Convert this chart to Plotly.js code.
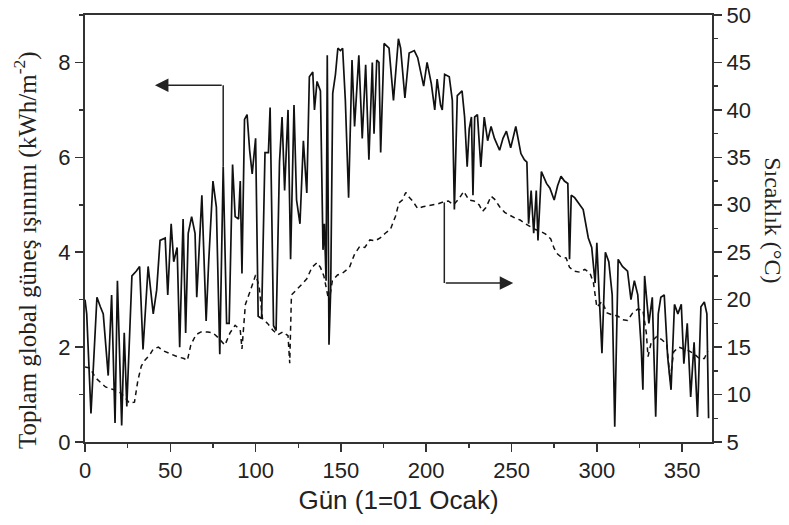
<!DOCTYPE html>
<html><head><meta charset="utf-8">
<script src="https://cdn.plot.ly/plotly-3.0.1.min.js"></script>
<style>html,body{margin:0;padding:0;background:#fff}</style>
</head><body><div id="chart" style="width:789px;height:525px"></div>
<script>
// Daily global solar radiation (kWh/m2)
const radDays = [0,1,3.5,5,7,9,10.7,13.6,15.6,17.6,19,21.5,23,24.5,27.5,30,32,34,37,38.5,40,42,44,47,48.5,50.5,52,54,55.5,57.5,59,60.5,62.5,64.5,65.5,68.5,71,72.5,75,77,79,81,83,84.5,86.5,88,90,91,92,93.5,95,96.5,98,100,101.5,103.5,105.5,107.5,108.5,110.5,112,114,115.5,117,119,120.5,122.5,124,126,128,130,131.5,133.5,134.5,136,138,139.5,140.3,141.3,142,143,144,145.2,146.8,148.2,149.7,151,152.6,154.5,156.5,158,160.5,162.5,164.5,166.4,168.4,169.4,171,172.3,173.3,175.3,178.2,180.8,183.7,185,187.5,190,193,195,198.5,200.5,203,205,206.4,208.4,209.4,210.8,213.5,215.3,216.5,218.2,221,222.5,224,225.2,226.5,227.4,228.4,230,232,234,236,238,240,243,245,247,249.5,252.5,255.5,257.5,259,260,261.5,263,264.5,265.5,267.5,270.5,272.5,275,277,279,281,283,284,285,287,289,292,295,297,299,300,301.5,303,305,307,309,310.5,312.5,315,318,320,322,324,326,327,328,329,330.5,332.5,334.5,336,337.5,339.5,341.5,343.5,345.5,347.5,349.5,351,353,355,357,359,361,363,364.5,365.5];
const radVals = [3.0,2.7,0.6,1.6,3.05,2.85,2.7,1.4,3.1,0.4,3.4,0.35,2.3,0.75,3.5,3.6,3.7,1.95,3.7,3.2,2.7,3.2,4.25,4.3,3.1,4.6,3.8,4.1,2.0,4.7,2.3,4.4,4.75,4.4,3.05,5.2,2.55,3.8,5.5,4.95,1.85,5.8,2.5,2.5,5.85,4.75,4.7,5.5,3.55,6.8,6.9,6.15,5.65,6.4,2.65,2.6,6.1,6.1,7.05,2.45,2.35,5.9,6.85,5.3,7.0,3.85,7.1,5.1,4.6,6.35,5.25,7.7,7.8,7.0,7.6,7.4,4.05,4.6,3.4,8.15,2.05,3.2,7.35,7.75,8.3,8.25,8.3,7.2,5.15,8.05,6.65,8.15,6.4,7.95,5.95,8.0,6.5,8.05,8.0,6.1,8.4,8.3,7.2,8.5,8.3,7.25,8.2,8.25,8.1,7.5,8.0,7.55,7.0,7.65,7.1,7.0,7.75,7.7,7.2,4.9,7.3,7.4,6.85,5.8,6.6,6.85,5.2,6.85,6.9,5.8,6.85,6.35,6.65,6.4,6.15,6.4,6.55,6.2,6.65,6.08,5.95,5.9,4.6,5.3,4.4,5.3,4.25,5.7,5.45,5.35,5.1,5.4,5.6,5.5,5.45,3.85,5.2,5.15,5.05,4.9,4.3,4.1,3.35,4.2,3.0,1.87,4.0,3.8,3.1,0.32,3.85,3.7,3.6,3.0,3.4,3.1,2.0,1.1,3.5,3.05,2.5,3.05,0.53,2.7,3.05,3.1,1.8,1.1,2.9,2.7,2.9,1.65,2.5,0.95,2.1,0.53,2.85,2.95,2.7,0.5];

// Daily temperature (°C)
const tempDays = [0,3,6,9,12,17,20,23,26,29,31,33,35,38,40,43,46,50,54,58,60,62,65,68,72,75,78,82,85,88,91,92,94,97,100,102,104,107,110,113,116,119,120,121,124,127,130,133,136,138,140,142,143,145,148,151,155,158,161,164,167,170,173,176,179,182,184,186,188,190,192,195,198,201,204,207,210,213,216,219,222,225,228,231,233,235,238,240,243,246,249,252,255,258,261,264,267,270,273,275,277,279,282,284,287,290,293,296,298,300,303,306,309,312,315,318,321,324,327,329,330,332,335,338,341,343,345,348,351,354,357,360,363,365];
const tempVals = [12.9,12.8,11.8,11.3,10.8,10.5,10.3,9.8,9.1,9.2,11.5,13.0,13.6,14.2,14.8,15.0,14.6,14.3,14.0,13.8,13.6,15.2,16.3,16.6,16.6,16.5,16.0,15.2,16.5,17.3,16.8,14.8,19.5,21.0,22.6,21.5,18.0,17.5,16.8,16.3,16.6,16.2,13.3,20.5,21.0,21.6,22.2,23.4,23.9,23.4,22.5,20.7,19.8,22.0,22.6,22.8,23.4,24.8,25.6,25.5,26.3,26.2,26.5,27.0,27.4,28.8,30.2,30.5,31.3,30.8,30.4,29.6,29.8,29.9,30.0,30.1,30.3,30.4,30.0,30.6,31.4,30.5,30.4,30.0,29.3,29.7,30.9,30.6,29.8,29.2,28.9,28.6,28.4,28.0,27.7,27.4,27.2,26.9,26.4,25.4,24.8,24.5,24.4,23.4,23.0,22.9,23.2,22.8,21.8,19.2,19.8,18.6,18.4,18.3,17.9,17.8,18.6,19.0,18.9,16.5,14.0,15.6,16.1,15.8,15.3,11.5,14.5,15.0,14.8,14.6,14.3,13.8,13.8,14.6];

const xTickVals = [0,50,100,150,200,250,300,350];
const yLeftTicks = [0,2,4,6,8];
const yRightTicks = [5,10,15,20,25,30,35,40,45,50];

const axisCol = '#333';
const tickFont = {family:'"Liberation Sans", Arial, sans-serif', size:22, color:'#222'};

const traces = [
  {x: radDays, y: radVals, type:'scatter', mode:'lines', line:{color:'#111', width:1.7}, yaxis:'y', hoverinfo:'skip'},
  {x: tempDays, y: tempVals, type:'scatter', mode:'lines', line:{color:'#111', width:1.5, dash:'5px,4px'}, yaxis:'y2', hoverinfo:'skip'}
];

const layout = {
  width:789, height:525,
  margin:{l:85, r:77, t:15, b:83},
  paper_bgcolor:'#fff', plot_bgcolor:'#fff',
  showlegend:false,
  xaxis:{
    range:[0,367.5], tickvals:xTickVals, ticktext:xTickVals.map(String),
    ticks:'outside', ticklen:8, tickwidth:1.5, tickcolor:axisCol,
    showline:true, linecolor:axisCol, linewidth:2, mirror:true,
    showgrid:false, zeroline:false, tickfont:tickFont,
    minor:{dtick:25, tick0:0, ticks:'outside', ticklen:4, tickwidth:1.5, tickcolor:axisCol, showgrid:false},
    title:{text:'Gün (1=01 Ocak)', font:{family:'"Liberation Sans", Arial, sans-serif', size:26, color:'#222'}, standoff:8}
  },
  yaxis:{
    range:[0,9], tickvals:yLeftTicks, ticktext:yLeftTicks.map(String),
    ticks:'outside', ticklen:8, tickwidth:1.5, tickcolor:axisCol,
    showline:true, linecolor:axisCol, linewidth:2,
    showgrid:false, zeroline:false, tickfont:tickFont,
    minor:{dtick:1, tick0:0, ticks:'outside', ticklen:4, tickwidth:1.5, tickcolor:axisCol, showgrid:false}
  },
  yaxis2:{
    range:[5,50], overlaying:'y', side:'right', tickvals:yRightTicks, ticktext:yRightTicks.map(String),
    ticks:'outside', ticklen:8, tickwidth:1.5, tickcolor:axisCol,
    showline:true, linecolor:axisCol, linewidth:2,
    showgrid:false, zeroline:false, tickfont:tickFont,
    minor:{dtick:2.5, tick0:5, ticks:'outside', ticklen:4, tickwidth:1.5, tickcolor:axisCol, showgrid:false}
  },
  shapes:[
    {type:'line', xref:'x', yref:'y', x0:81, y0:7.52, x1:81, y1:5.8, line:{color:'#222', width:1.5}},
    {type:'line', xref:'x', yref:'y', x0:210.6, y0:5.05, x1:210.6, y1:3.35, line:{color:'#222', width:1.5}}
  ],
  annotations:[
    {xref:'x', yref:'y', axref:'x', ayref:'y', x:41, y:7.52, ax:81, ay:7.52, text:'', showarrow:true, arrowhead:2, arrowsize:1.8, arrowwidth:1.5, arrowcolor:'#222', standoff:0},
    {xref:'x', yref:'y', axref:'x', ayref:'y', x:251, y:3.35, ax:210.6, ay:3.35, text:'', showarrow:true, arrowhead:2, arrowsize:1.8, arrowwidth:1.5, arrowcolor:'#222', standoff:0},
    {xref:'paper', yref:'paper', x:-0.094, y:0.45, xanchor:'center', yanchor:'middle', textangle:-90, showarrow:false,
     text:'Toplam global güneş ışınımı (kWh/m<sup>-2</sup>)', font:{family:'"Liberation Serif", "Times New Roman", serif', size:25, color:'#222'}},
    {xref:'paper', yref:'paper', x:1.097, y:0.52, xanchor:'center', yanchor:'middle', textangle:90, showarrow:false,
     text:'Sıcaklık (°C)', font:{family:'"Liberation Serif", "Times New Roman", serif', size:24, color:'#222'}}
  ]
};

Plotly.newPlot('chart', traces, layout, {staticPlot:true, displayModeBar:false});
</script>
</body></html>
